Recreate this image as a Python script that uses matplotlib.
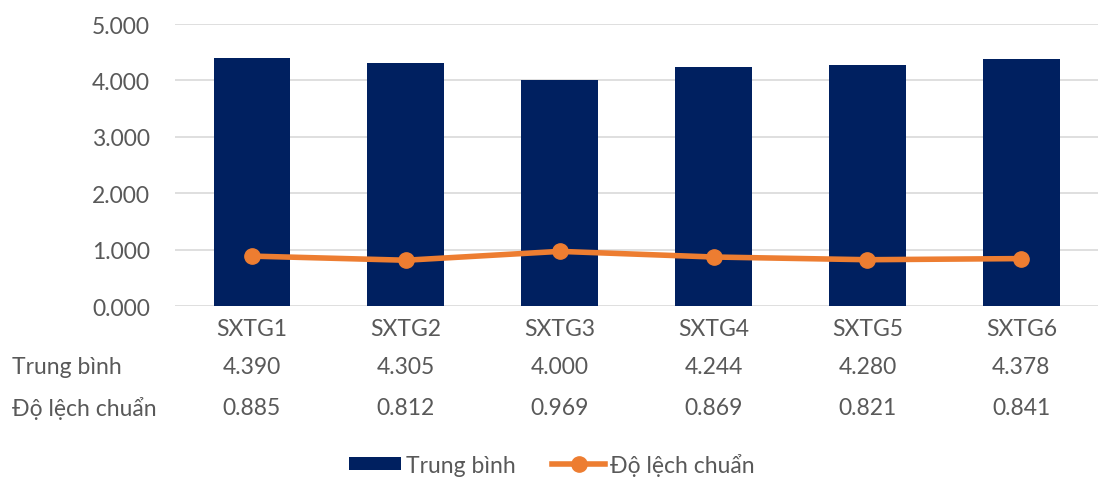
import matplotlib
matplotlib.use("Agg")
import matplotlib.pyplot as plt
import numpy as np

plt.rcParams['font.family'] = ['Lato', 'DejaVu Sans']

categories = ['SXTG1', 'SXTG2', 'SXTG3', 'SXTG4', 'SXTG5', 'SXTG6']
trung_binh = [4.390, 4.305, 4.000, 4.244, 4.280, 4.378]
do_lech = [0.885, 0.812, 0.969, 0.869, 0.821, 0.841]
row_labels = ['Trung bình', 'Độ lệch chuẩn']

NAVY = '#002060'
ORANGE = '#ED7D31'
GREY = '#595959'
FS = 16.5

fig = plt.figure(figsize=(11.03, 4.81), dpi=100)
ax = fig.add_axes([0.1587, 0.3617, 0.837, 0.5863])

x = np.arange(len(categories))
bars = ax.bar(x, trung_binh, width=0.5, color=NAVY, label='Trung bình', zorder=2)
line, = ax.plot(x, do_lech, color=ORANGE, lw=4, marker='o', ms=11,
                label='Độ lệch chuẩn', zorder=3)

ax.set_xlim(-0.5, len(categories) - 0.5)
ax.set_ylim(0, 5)
ax.set_yticks(np.arange(0, 5.01, 1))
ax.set_yticklabels(['%.3f' % v for v in np.arange(0, 5.01, 1)], color=GREY, fontsize=FS)
ax.yaxis.grid(True, color='#D9D9D9', lw=1.2, zorder=0)
ax.set_axisbelow(True)
ax.tick_params(axis='y', length=0, pad=18)
ax.tick_params(axis='x', length=0, labelbottom=False)
for s in ax.spines.values():
    s.set_visible(False)

# data table under the chart
trans = ax.get_xaxis_transform()
for i, c in enumerate(categories):
    ax.text(x[i], -0.08, c, transform=trans, ha='center', va='center', color=GREY, fontsize=FS)
    ax.text(x[i], -0.215, '%.3f' % trung_binh[i], transform=trans, ha='center', va='center',
            color=GREY, fontsize=FS)
    ax.text(x[i], -0.36, '%.3f' % do_lech[i], transform=trans, ha='center', va='center',
            color=GREY, fontsize=FS)
fig.text(12 / 1103, 1 - 368 / 481, row_labels[0], ha='left', va='center', color=GREY, fontsize=FS)
fig.text(12 / 1103, 1 - 409 / 481, row_labels[1], ha='left', va='center', color=GREY, fontsize=FS)

leg = fig.legend(handles=[bars, line], loc='center', bbox_to_anchor=(0.5, 0.033), ncol=2,
                 frameon=False, fontsize=FS, handlelength=2.3, handleheight=0.5,
                 handletextpad=0.2, columnspacing=1.6)
for t in leg.get_texts():
    t.set_color(GREY)

fig.savefig('out.png', dpi=100, facecolor='white')
